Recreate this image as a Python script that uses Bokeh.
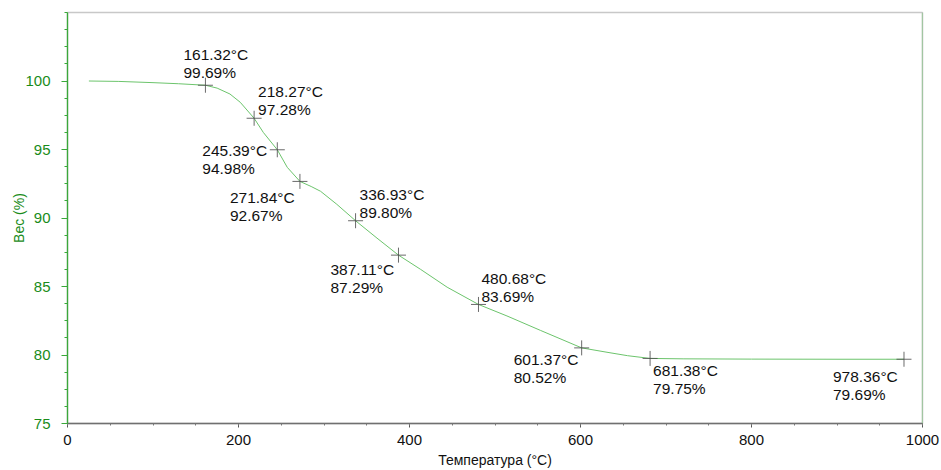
from bokeh.plotting import figure
from bokeh.models import ColumnDataSource, Range1d, FixedTicker, Span
from bokeh.embed import file_html
from bokeh.resources import INLINE
from bokeh.core.properties import value

# Curve (temperature °C, weight %)
curve_t = [25, 60, 100, 130, 161.32, 175, 190, 202, 218.27, 229, 245.39, 257,
           271.84, 285, 296, 315, 336.93, 362, 387.11, 413, 444, 480.68, 514,
           553, 601.37, 631, 655, 681.38, 720, 800, 900, 978.36]
curve_w = [100.0, 99.97, 99.88, 99.80, 99.69, 99.48, 99.05, 98.45, 97.28, 96.25,
           94.98, 93.70, 92.67, 92.30, 91.95, 91.00, 89.80, 88.53, 87.29, 86.25,
           84.95, 83.69, 82.85, 81.80, 80.52, 80.20, 79.95, 79.75, 79.72, 79.70,
           79.69, 79.69]

# Marked points
mark_t = [161.32, 218.27, 245.39, 271.84, 336.93, 387.11, 480.68, 601.37, 681.38, 978.36]
mark_w = [99.69, 97.28, 94.98, 92.67, 89.80, 87.29, 83.69, 80.52, 79.75, 79.69]

x_ticks = [0, 200, 400, 600, 800, 1000]
y_ticks = [75, 80, 85, 90, 95, 100]

# label placement (pixel offsets) - styling only
lab_dx = [-22, 4, -75, -70, 4, -68, 3, -68, 3, -71]
lab_dy = [-31, -27, 1, 16, -26, 14, -26, 12, 12, 17]

GREEN_TXT = "#1a8c1a"
GREEN_AXIS = "#3aa83a"
GREEN_LINE = "#6cc46c"
FONT = "Liberation Sans"

p = figure(width=941, height=470, output_backend="svg", toolbar_location=None,
           x_range=Range1d(0, 1000), y_range=Range1d(75, 105),
           min_border_left=67, min_border_right=19, min_border_top=12, min_border_bottom=47)
p.xgrid.visible = False
p.ygrid.visible = False
p.outline_line_color = "#c8c8c8"
p.outline_line_width = 1.5

p.add_layout(Span(location=x_ticks[-1], dimension="height", line_color="#7cc47c", line_width=1.2))

p.line(curve_t, curve_w, line_color=GREEN_LINE, line_width=1)

src = ColumnDataSource(dict(
    t=mark_t, w=mark_w,
    l1=[f"{t:.2f}°C" for t in mark_t],
    l2=[f"{w:.2f}%" for w in mark_w],
    dx=lab_dx, dy1=lab_dy, dy2=[d + 18 for d in lab_dy],
))
p.scatter("t", "w", source=src, marker="cross", size=15, line_color="#505050",
          line_alpha=0.85, line_width=1)
for col, dy in (("l1", "dy1"), ("l2", "dy2")):
    p.text("t", "w", text=col, source=src, x_offset="dx", y_offset=dy, text_align="left",
           text_baseline="middle", text_font=value(FONT), text_font_size="15.5px",
           text_color="#111111")

xa = p.xaxis[0]
xa.ticker = FixedTicker(ticks=x_ticks, minor_ticks=list(range(0, 1001, 50)))
xa.axis_label = "Температура (°C)"
xa.axis_label_text_font = FONT
xa.axis_label_text_font_style = "normal"
xa.axis_label_text_font_size = "14px"
xa.axis_label_text_color = "#111111"
xa.axis_label_standoff = 4
xa.major_label_text_font = FONT
xa.major_label_text_font_size = "15px"
xa.major_label_text_color = "#111111"
xa.major_label_standoff = 7
xa.axis_line_color = "#707070"
xa.axis_line_width = 1.3
xa.major_tick_line_color = "#555555"
xa.minor_tick_line_color = "#777777"
xa.major_tick_out = 4
xa.major_tick_in = 0
xa.minor_tick_out = 2
xa.minor_tick_in = 0

ya = p.yaxis[0]
ya.ticker = FixedTicker(ticks=y_ticks, minor_ticks=[75 + 1.25 * i for i in range(25)])
ya.axis_label = "Вес (%)"
ya.axis_label_text_font = FONT
ya.axis_label_text_font_style = "normal"
ya.axis_label_text_font_size = "14px"
ya.axis_label_text_color = GREEN_TXT
ya.axis_label_standoff = -5
ya.major_label_text_font = FONT
ya.major_label_text_font_size = "15px"
ya.major_label_text_color = GREEN_TXT
ya.major_label_standoff = 11
ya.axis_line_color = GREEN_AXIS
ya.axis_line_width = 1.3
ya.major_tick_line_color = GREEN_AXIS
ya.minor_tick_line_color = GREEN_AXIS
ya.major_tick_out = 6
ya.major_tick_in = 0
ya.minor_tick_out = 3
ya.minor_tick_in = 0

open("out.html", "w").write(file_html(p, INLINE))
